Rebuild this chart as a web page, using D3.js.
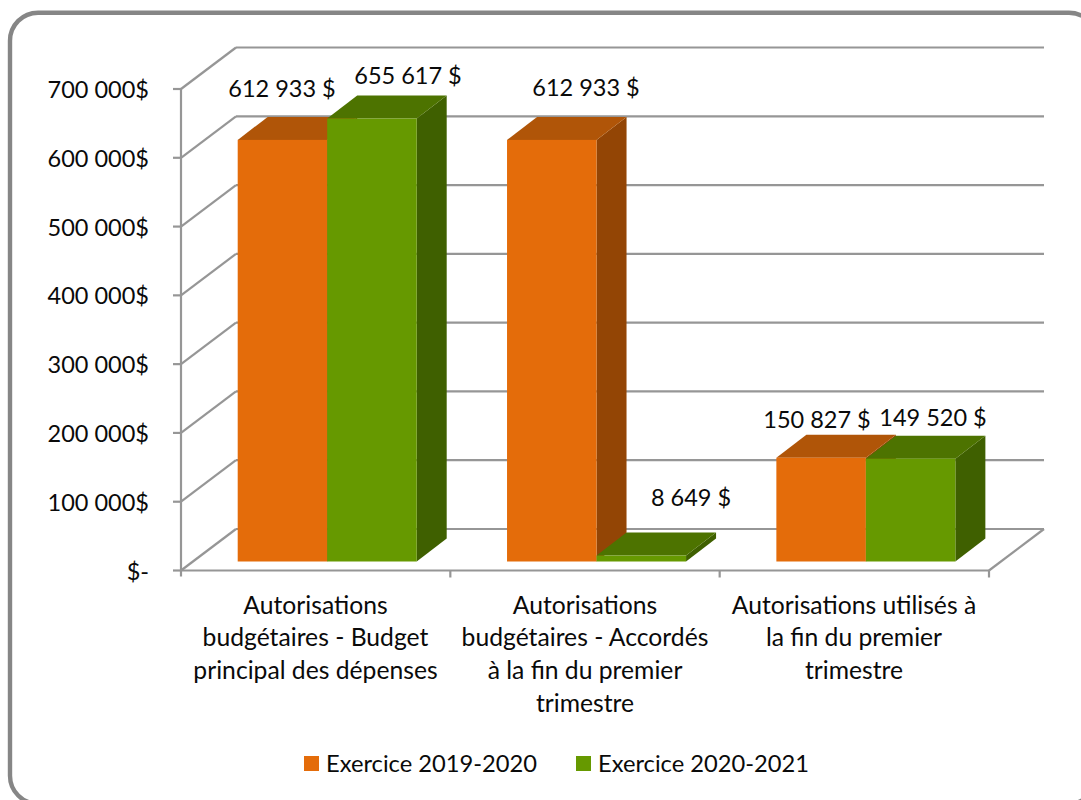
<!DOCTYPE html>
<html><head><meta charset="utf-8">
<script src="https://cdn.jsdelivr.net/npm/d3@7"></script>
<style>html,body{margin:0;background:#fff}svg{display:block}text{font-family:Lato,"Open Sans",sans-serif;fill:#0a0a0a}</style>
</head><body><svg id="c" width="1081" height="800"></svg>
<script>
const categories=[["Autorisations","budgétaires - Budget","principal des dépenses"],["Autorisations","budgétaires - Accordés","à la fin du premier","trimestre"],["Autorisations utilisés à","la fin du premier","trimestre"]];
const seriesNames=["Exercice 2019-2020","Exercice 2020-2021"];
// Bar heights (the first green bar is drawn shorter than its printed label)
const values2019=[612933,612933,150827];
const values2020=[644000,8649,149520];
const labels2019=["612 933 $","612 933 $","150 827 $"];
const labels2020=["655 617 $","8 649 $","149 520 $"];
const ticks=[0,100000,200000,300000,400000,500000,600000,700000];
const tickLabels=["$-","100 000$","200 000$","300 000$","400 000$","500 000$","600 000$","700 000$"];
const faces=[{front:"#e46c0a",top:"#b05508",side:"#934505"},{front:"#669900",top:"#4d7300",side:"#3f6000"}];

const svg=d3.select("#c");
const y=d3.scaleLinear().domain([0,700000]).range([570.5,89]);
const x=d3.scaleBand().domain([0,1,2]).range([181,989]);
const dx=55,dy=-41.5;
const grey="#969696";
svg.append("rect").attr("x",10).attr("y",12.7).attr("width",1087).attr("height",791).attr("rx",28)
 .attr("fill","#fff").attr("stroke","#868686").attr("stroke-width",4.4);

const g=svg.append("g");
const gl=(x1,y1,x2,y2,w=2.2)=>g.append("line").attr("x1",x1).attr("y1",y1).attr("x2",x2).attr("y2",y2).attr("stroke",grey).attr("stroke-width",w);
ticks.forEach(t=>{
  gl(x.range()[0],y(t),x.range()[0]+dx,y(t)+dy);
  gl(x.range()[0]+dx,y(t)+dy,x.range()[1]+dx,y(t)+dy);
  gl(x.range()[0]-8,y(t),x.range()[0],y(t));
});
gl(x.range()[0],y(700000),x.range()[0],y(0)+6);
gl(x.range()[0],y(0),x.range()[1],y(0));
gl(x.range()[1],y(0),x.range()[1]+dx,y(0)+dy);
[1,2,3].forEach(i=>gl(181+i*x.step(),y(0),181+i*x.step(),y(0)+7));

const barW=89.5,barDx=30,barDy=-23,baseShift=-9,inset=56.7;
const pts=a=>a.map(p=>p.join(",")).join(" ");
function bar(cat,s,v){
  const x0=x(cat)+inset+s*barW,x1=x0+barW,yb=y(0)+baseShift,yt=y(v)+baseShift,f=faces[s];
  g.append("polygon").attr("points",pts([[x1,yb],[x1+barDx,yb+barDy],[x1+barDx,yt+barDy],[x1,yt]])).attr("fill",f.side);
  g.append("polygon").attr("points",pts([[x0,yt],[x0+barDx,yt+barDy],[x1+barDx,yt+barDy],[x1,yt]])).attr("fill",f.top);
  g.append("rect").attr("x",x0).attr("y",yt).attr("width",barW).attr("height",yb-yt).attr("fill",f.front);
}
[0,1,2].forEach(c=>{bar(c,0,values2019[c]);bar(c,1,values2020[c]);});

const T=(s,px,py,a="middle",fs=23.5)=>svg.append("text").attr("x",px).attr("y",py).attr("text-anchor",a).attr("font-size",fs).text(s);
ticks.forEach((t,i)=>T(tickLabels[i],149,y(t)+9,"end"));
const labelPos2019=[[282,97],[586,96],[817,428]];
const labelPos2020=[[408,84],[691,506],[933,426]];
labels2019.forEach((s,i)=>T(s,labelPos2019[i][0],labelPos2019[i][1]));
labels2020.forEach((s,i)=>T(s,labelPos2020[i][0],labelPos2020[i][1]));
const catX=[315.5,585,854];
categories.forEach((lines,c)=>lines.forEach((l,i)=>T(l,catX[c],613.5+i*32.8,"middle",24.7)));
const lx=[304,576];
seriesNames.forEach((n,i)=>{
  svg.append("rect").attr("x",lx[i]).attr("y",756).attr("width",15).attr("height",15).attr("fill",faces[i].front);
  T(n,lx[i]+22,772,"start",23.7);
});
</script></body></html>
